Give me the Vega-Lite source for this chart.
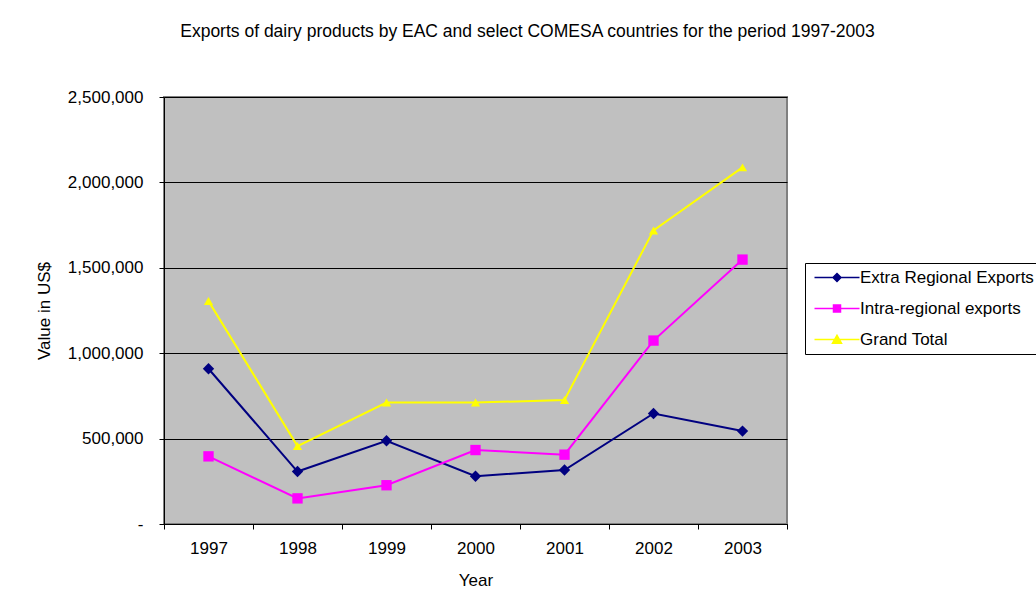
{
  "$schema": "https://vega.github.io/schema/vega-lite/v6.json",
  "autosize": {"type": "none"},
  "width": 623,
  "height": 427,
  "padding": {"left": 164, "top": 97, "right": 249, "bottom": 92},
  "background": "white",
  "title": {
    "text": "Exports of dairy products by EAC and select COMESA countries for the period 1997-2003",
    "font": "Liberation Sans",
    "fontSize": 17.5,
    "fontWeight": "normal",
    "color": "black",
    "anchor": "middle",
    "dx": 52,
    "offset": 34,
    "baseline": "alphabetic"
  },
  "config": {
    "font": "Liberation Sans",
    "view": {"fill": "#C0C0C0", "stroke": "#808080", "strokeWidth": 2}
  },
  "data": {
    "values": [
      {"year": 1997, "series": "Extra Regional Exports", "value": 909000},
      {"year": 1998, "series": "Extra Regional Exports", "value": 307000},
      {"year": 1999, "series": "Extra Regional Exports", "value": 487000},
      {"year": 2000, "series": "Extra Regional Exports", "value": 280000},
      {"year": 2001, "series": "Extra Regional Exports", "value": 316000},
      {"year": 2002, "series": "Extra Regional Exports", "value": 647000},
      {"year": 2003, "series": "Extra Regional Exports", "value": 544000},
      {"year": 1997, "series": "Intra-regional exports", "value": 396000},
      {"year": 1998, "series": "Intra-regional exports", "value": 150000},
      {"year": 1999, "series": "Intra-regional exports", "value": 227000},
      {"year": 2000, "series": "Intra-regional exports", "value": 433000},
      {"year": 2001, "series": "Intra-regional exports", "value": 406000},
      {"year": 2002, "series": "Intra-regional exports", "value": 1074000},
      {"year": 2003, "series": "Intra-regional exports", "value": 1548000},
      {"year": 1997, "series": "Grand Total", "value": 1305000},
      {"year": 1998, "series": "Grand Total", "value": 456000},
      {"year": 1999, "series": "Grand Total", "value": 711000},
      {"year": 2000, "series": "Grand Total", "value": 711000},
      {"year": 2001, "series": "Grand Total", "value": 726000},
      {"year": 2002, "series": "Grand Total", "value": 1719000},
      {"year": 2003, "series": "Grand Total", "value": 2088000}
    ]
  },
  "encoding": {
    "x": {
      "field": "year",
      "type": "quantitative",
      "scale": {"domain": [1996.5, 2003.5], "nice": false, "zero": false},
      "axis": {
        "values": [1996.5, 1997.5, 1998.5, 1999.5, 2000.5, 2001.5, 2002.5, 2003.5],
        "labelExpr": "datum.value > 2003 ? '' : format(datum.value + 0.5, 'd')",
        "labelOffset": 44.5,
        "labelFlush": false,
        "labelOverlap": false,
        "labelBound": false,
        "grid": false,
        "domainColor": "black",
        "domainWidth": 1,
        "tickColor": "black",
        "tickSize": 5,
        "labelFont": "Liberation Sans",
        "labelFontSize": 17,
        "labelColor": "black",
        "labelPadding": 11,
        "title": "Year",
        "titleFont": "Liberation Sans",
        "titleFontSize": 17,
        "titleFontWeight": "normal",
        "titleColor": "black",
        "titlePadding": 16
      }
    },
    "y": {
      "field": "value",
      "type": "quantitative",
      "scale": {"domain": [0, 2500000], "nice": false},
      "axis": {
        "values": [0, 500000, 1000000, 1500000, 2000000, 2500000],
        "labelExpr": "datum.value == 0 ? '-\u00a0\u00a0\u00a0\u00a0' : format(datum.value, ',')",
        "grid": true,
        "gridColor": "black",
        "gridWidth": 1,
        "gridOpacity": 1,
        "domainColor": "black",
        "domainWidth": 1,
        "tickColor": "black",
        "tickSize": 5,
        "labelFont": "Liberation Sans",
        "labelFontSize": 17,
        "labelColor": "black",
        "labelPadding": 16,
        "title": "Value in US$",
        "titleFont": "Liberation Sans",
        "titleFontSize": 17,
        "titleFontWeight": "normal",
        "titleColor": "black",
        "titlePadding": 14
      }
    }
  },
  "layer": [
    {
      "mark": {"type": "line", "strokeWidth": 2},
      "encoding": {
        "color": {
          "field": "series",
          "type": "nominal",
          "scale": {
            "domain": ["Extra Regional Exports", "Intra-regional exports", "Grand Total"],
            "range": ["#000080", "#FF00FF", "#FFFF00"]
          },
          "legend": null
        }
      }
    },
    {
      "mark": {"type": "point", "filled": true, "opacity": 1},
      "encoding": {
        "color": {
          "field": "series",
          "type": "nominal",
          "scale": {
            "domain": ["Extra Regional Exports", "Intra-regional exports", "Grand Total"],
            "range": ["#000080", "#FF00FF", "#FFFF00"]
          },
          "legend": null
        },
        "shape": {
          "field": "series",
          "type": "nominal",
          "scale": {
            "domain": ["Extra Regional Exports", "Intra-regional exports", "Grand Total"],
            "range": ["diamond", "square", "triangle-up"]
          },
          "legend": null
        },
        "size": {
          "field": "series",
          "type": "nominal",
          "scale": {
            "domain": ["Extra Regional Exports", "Intra-regional exports", "Grand Total"],
            "range": [130, 85, 150]
          },
          "legend": null
        }
      }
    },
    {
      "mark": {"type": "point", "filled": true, "size": 100, "opacity": 0},
      "encoding": {
        "fill": {
          "field": "series",
          "type": "nominal",
          "scale": {
            "domain": ["Extra Regional Exports", "Intra-regional exports", "Grand Total"],
            "range": ["#000080", "#FF00FF", "#FFFF00"]
          },
          "legend": {
            "orient": "none",
            "legendX": 641,
            "legendY": 166,
            "title": null,
            "strokeColor": "black",
            "fillColor": "white",
            "padding": 6,
            "symbolSize": 100,
            "symbolOpacity": 1,
            "symbolStrokeWidth": 1.5,
            "labelFont": "Liberation Sans",
            "labelFontSize": 17,
            "labelColor": "black",
            "labelOffset": 32,
            "labelLimit": 400,
            "rowPadding": 13
          }
        },
        "stroke": {
          "field": "series",
          "type": "nominal",
          "scale": {
            "domain": ["Extra Regional Exports", "Intra-regional exports", "Grand Total"],
            "range": ["#000080", "#FF00FF", "#FFFF00"]
          },
          "legend": {
            "orient": "none",
            "legendX": 641,
            "legendY": 166,
            "title": null,
            "strokeColor": "black",
            "fillColor": "white",
            "padding": 6,
            "symbolSize": 100,
            "symbolOpacity": 1,
            "symbolStrokeWidth": 1.5,
            "labelFont": "Liberation Sans",
            "labelFontSize": 17,
            "labelColor": "black",
            "labelOffset": 32,
            "labelLimit": 400,
            "rowPadding": 13
          }
        },
        "shape": {
          "field": "series",
          "type": "nominal",
          "scale": {
            "domain": ["Extra Regional Exports", "Intra-regional exports", "Grand Total"],
            "range": [
              "M-1,0L8,0M3.5,-0.8L4.3,0L3.5,0.8L2.7,0Z",
              "M-1,0L8,0M2.8,-0.7L4.2,-0.7L4.2,0.7L2.8,0.7Z",
              "M-1,0L8,0M3.5,-0.85L4.4,0.75L2.6,0.75Z"
            ]
          },
          "legend": {
            "orient": "none",
            "legendX": 641,
            "legendY": 166,
            "title": null,
            "strokeColor": "black",
            "fillColor": "white",
            "padding": 6,
            "symbolSize": 100,
            "symbolOpacity": 1,
            "symbolStrokeWidth": 1.5,
            "labelFont": "Liberation Sans",
            "labelFontSize": 17,
            "labelColor": "black",
            "labelOffset": 32,
            "labelLimit": 400,
            "rowPadding": 13
          }
        }
      }
    }
  ],
  "resolve": {"scale": {"shape": "independent", "fill": "independent", "stroke": "independent", "size": "independent"}}
}
